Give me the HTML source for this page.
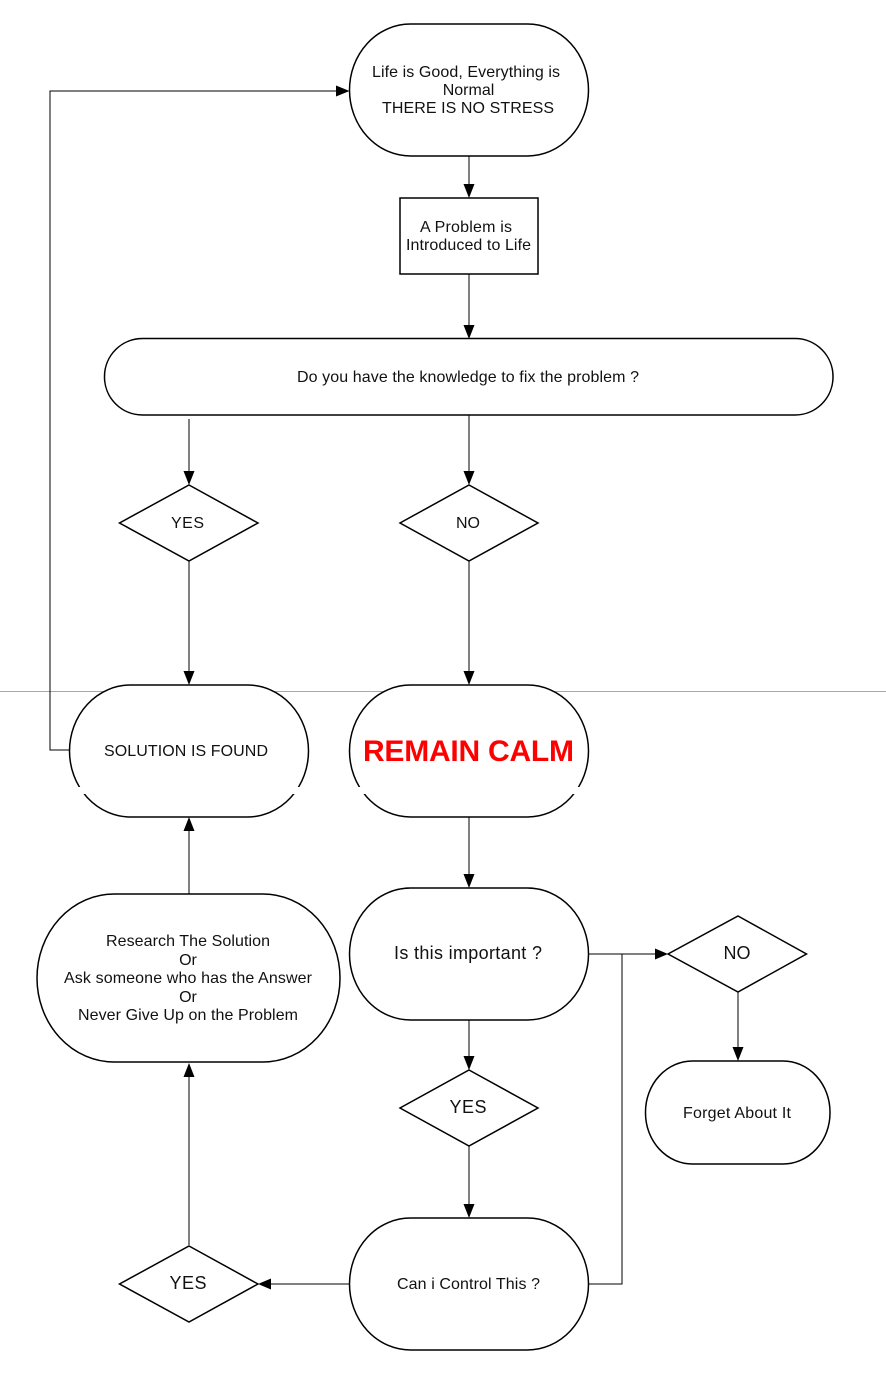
<!DOCTYPE html>
<html><head><meta charset="utf-8"><style>
html,body{margin:0;padding:0;background:#fff;width:886px;height:1398px;overflow:hidden}
svg{display:block}
text{font-family:"Liberation Sans",Arial,sans-serif;font-size:16px;fill:#111;text-anchor:middle}
.s{fill:#fff;stroke:#000;stroke-width:1.5}
.l{fill:none;stroke:#000;stroke-width:1}
.a{fill:#000;stroke:none}
</style></head><body>
<svg width="886" height="1398" viewBox="0 0 886 1398" xmlns="http://www.w3.org/2000/svg">
<rect width="886" height="1398" fill="#fff"/>
<line x1="0" y1="691.5" x2="886" y2="691.5" stroke="#a8a8a8" stroke-width="1"/>

<!-- connectors -->
<path class="l" d="M69 750H50V91H338"/>
<path class="l" d="M469 156V186"/>
<path class="l" d="M469 274V327"/>
<path class="l" d="M189 419V474"/>
<path class="l" d="M469 415V474"/>
<path class="l" d="M189 561V674"/>
<path class="l" d="M469 561V674"/>
<path class="l" d="M469 817V876"/>
<path class="l" d="M189 894V829"/>
<path class="l" d="M588 954H656"/>
<path class="l" d="M622 954H656"/>
<path class="l" d="M738 992V1050"/>
<path class="l" d="M469 1020V1059"/>
<path class="l" d="M469 1146V1207"/>
<path class="l" d="M349 1284H270"/>
<path class="l" d="M189 1245V1074"/>
<path class="l" d="M588 1284H622V954"/>

<!-- arrowheads -->
<polygon class="a" points="349.5,91 336,85.500 336,96.500"/>
<polygon class="a" points="469,198 463.500,184 474.500,184"/>
<polygon class="a" points="469,339 463.500,325 474.500,325"/>
<polygon class="a" points="189,485 183.500,471 194.500,471"/>
<polygon class="a" points="469,485 463.500,471 474.500,471"/>
<polygon class="a" points="189,685 183.500,671 194.500,671"/>
<polygon class="a" points="469,685 463.500,671 474.500,671"/>
<polygon class="a" points="469,888 463.500,874 474.500,874"/>
<polygon class="a" points="189,817 183.500,831 194.500,831"/>
<polygon class="a" points="668,954 655,948.500 655,959.500"/>
<polygon class="a" points="738,1061 732.500,1047 743.500,1047"/>
<polygon class="a" points="469,1070 463.500,1056 474.500,1056"/>
<polygon class="a" points="469,1218 463.500,1204 474.500,1204"/>
<polygon class="a" points="258,1284 271,1278.500 271,1289.500"/>
<polygon class="a" points="189,1063 183.500,1077 194.500,1077"/>

<!-- shapes -->
<rect class="s" x="349.5" y="24" width="239" height="132" rx="61" ry="66"/>
<rect class="s" x="400" y="198" width="138" height="76"/>
<rect class="s" x="104.500" y="338.500" width="728.500" height="76.500" rx="38" ry="38"/>
<polygon class="s" points="189,485 258,523 189,561 119.500,523"/>
<polygon class="s" points="469,485 538,523 469,561 400,523"/>
<rect class="s" x="69.500" y="685" width="239" height="132" rx="61" ry="66"/>
<rect class="s" x="349.5" y="685" width="239" height="132" rx="61" ry="66"/>
<rect class="s" x="349.5" y="888" width="239" height="132" rx="61" ry="66"/>
<rect class="s" x="37" y="894" width="303" height="168" rx="77" ry="84"/>
<polygon class="s" points="738,916 806.500,954 738,992 668,954"/>
<rect class="s" x="645.500" y="1061" width="184.500" height="103" rx="47" ry="51"/>
<polygon class="s" points="469,1070 538,1108 469,1146 400,1108"/>
<rect class="s" x="349.5" y="1218" width="239" height="132" rx="61" ry="66"/>
<polygon class="s" points="189,1246 258,1284 189,1322 119.500,1284"/>

<!-- white breaks -->
<g fill="#fff">
<polygon points="76,787 82,787 86,794 80,794"/>
<polygon points="296,787 302,787 298,794 292,794"/>
<polygon points="356,787 362,787 366,794 360,794"/>
<polygon points="576,787 582,787 578,794 572,794"/>
</g>

<!-- labels -->
<text x="466" y="77" textLength="188">Life is Good, Everything is</text>
<text x="468.500" y="95">Normal</text>
<text x="468" y="113" textLength="172">THERE IS NO STRESS</text>
<text x="466" y="232" textLength="92">A Problem is</text>
<text x="468.500" y="250" textLength="125">Introduced to Life</text>
<text x="468" y="382" textLength="342">Do you have the knowledge to fix the problem ?</text>
<text x="187.500" y="528" textLength="33">YES</text>
<text x="468" y="528">NO</text>
<text x="186" y="756" textLength="164">SOLUTION IS FOUND</text>
<text x="468.500" y="761" textLength="211" style="font-size:30px;font-weight:bold;fill:#f00">REMAIN CALM</text>
<text x="468" y="959" textLength="148" style="font-size:18px">Is this important ?</text>
<text x="188" y="946" textLength="164">Research The Solution</text>
<text x="188" y="965">Or</text>
<text x="188" y="983" textLength="248">Ask someone who has the Answer</text>
<text x="188" y="1002">Or</text>
<text x="188" y="1020" textLength="220">Never Give Up on the Problem</text>
<text x="737" y="959" style="font-size:18px">NO</text>
<text x="737" y="1118" textLength="108">Forget About It</text>
<text x="468" y="1113" textLength="37" style="font-size:18px">YES</text>
<text x="468.500" y="1289" textLength="143">Can i Control This ?</text>
<text x="188" y="1289" textLength="37" style="font-size:18px">YES</text>
</svg>
</body></html>
